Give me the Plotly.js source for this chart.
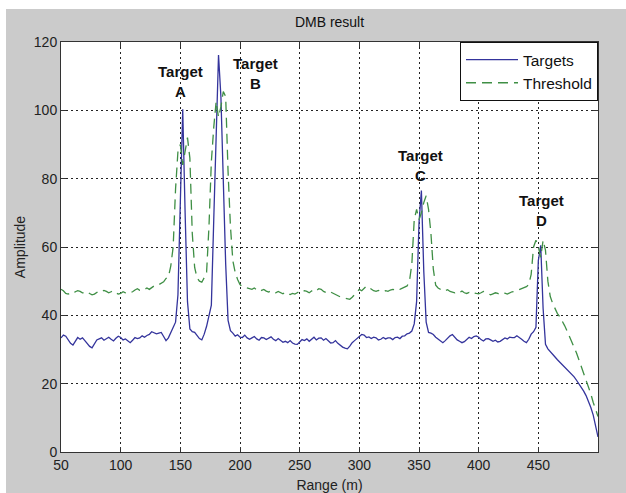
<!DOCTYPE html>
<html>
<head>
<meta charset="utf-8">
<script src="https://cdn.plot.ly/plotly-3.0.1.min.js"></script>
<style>
  html, body { margin: 0; padding: 0; background: #ffffff; width: 626px; height: 493px; overflow: hidden; }
  #chart { position: absolute; left: 6px; top: 9px; width: 620px; height: 484px; }
</style>
</head>
<body>
<div id="chart"></div>
<script>
// Range axis samples (m), every 2 m from 50 to 500
const rangeStart = 50;
const rangeStep = 2;

// Targets (blue solid) amplitude, one value per 2 m
const targets = [
  33.4, 34.2, 33.9, 32.8, 31.8, 31.3, 32.6, 33.5, 33.0, 33.4,
  32.6, 31.8, 30.9, 30.5, 31.6, 32.8, 33.1, 33.4, 32.7, 33.2,
  33.6, 33.0, 32.5, 33.3, 33.9, 33.5, 32.8, 33.1, 32.4, 32.0,
  32.7, 33.5, 33.2, 33.4, 34.0, 33.6, 34.1, 34.4, 35.2, 34.8,
  34.6, 34.8, 35.0, 33.8, 32.6, 33.4, 35.0, 36.4, 38.0, 46.0,
  75.0, 100.3, 70.0, 44.0, 36.0, 35.2, 35.0, 34.0, 33.2, 32.8,
  34.5, 36.8, 39.5, 43.0, 68.0, 96.0, 116.2, 104.0, 80.0, 55.0,
  38.5, 35.5, 34.8, 33.9, 34.3, 33.6, 33.5, 34.2, 33.4, 33.0,
  33.4, 33.8, 33.1, 32.7, 33.5, 33.4, 32.9, 33.3, 33.7, 33.0,
  32.6, 33.2, 32.5, 32.1, 32.4, 32.0, 32.6, 31.9, 31.6, 31.5,
  32.2, 32.9, 32.6, 33.1, 32.4, 33.0, 33.6, 32.8, 33.3, 33.4,
  32.7, 33.2, 32.4, 31.9, 32.0, 32.6, 31.8, 31.2, 30.7, 30.4,
  30.2, 31.0, 32.0, 32.6, 33.3, 34.0, 34.4, 34.2, 33.5, 33.7,
  33.2, 33.6, 33.4, 32.8, 33.0, 33.5, 33.1, 33.4, 33.4, 32.9,
  33.5, 33.6, 33.2, 33.9, 34.0, 34.6, 34.8, 35.4, 37.5, 44.0,
  67.0, 76.5, 53.0, 38.0, 35.0, 34.8, 34.4, 33.6, 33.0, 32.5,
  32.0, 32.6, 33.4, 34.0, 34.4, 33.5, 32.8, 32.4, 32.0, 32.3,
  33.0, 33.6, 33.2, 33.8, 34.0, 33.6, 32.9, 32.5, 33.1, 33.2,
  32.8, 32.4, 32.7, 32.2, 32.4, 33.0, 33.4, 33.1, 33.6, 33.5,
  33.5, 34.0, 33.6, 33.0, 32.4, 32.0, 33.0, 34.5, 35.2, 36.5,
  56.0, 60.5, 42.0, 31.5, 30.2, 29.3, 28.6, 27.8, 27.0, 26.3,
  25.8, 25.0, 24.2, 23.5, 22.7, 22.0, 21.0, 20.0, 19.0, 17.8,
  16.5, 15.0, 13.0, 10.8, 7.8, 4.4
];

// Threshold (green dashed) amplitude, one value per 2 m
const threshold = [
  47.6, 47.2, 46.4, 46.2, 46.6, 46.4, 46.9, 47.2, 47.0, 46.6,
  46.5, 46.9, 46.4, 46.0, 46.2, 46.8, 47.2, 47.0, 47.3, 47.0,
  46.6, 46.9, 47.2, 46.6, 46.2, 46.4, 46.9, 46.6, 46.4, 46.7,
  46.9, 47.4, 47.8, 47.3, 47.2, 47.6, 48.0, 47.6, 48.2, 48.6,
  48.6, 49.0, 49.4, 49.8, 50.8, 51.2, 54.5, 60.0, 77.0, 88.0,
  90.0, 84.0, 88.0, 92.0, 86.0, 64.0, 54.0, 51.0, 50.0, 49.7,
  51.0, 52.6, 66.0, 85.0, 95.0, 102.6, 98.0, 101.0, 105.5, 104.0,
  82.0, 66.0, 56.0, 52.5, 50.5, 49.0, 48.4, 48.2, 47.9, 47.6,
  47.6, 48.0, 47.4, 47.0, 47.3, 47.6, 47.1, 46.8, 47.2, 47.0,
  46.6, 47.0, 46.6, 46.3, 46.8, 46.5, 46.1, 46.4, 46.2, 46.6,
  47.0, 46.7, 47.2, 47.0, 46.6, 47.1, 47.6, 47.2, 47.8, 47.6,
  47.0, 46.7, 47.1, 46.8, 46.4, 46.0, 45.6, 45.4, 45.2, 45.0,
  44.8, 44.7, 45.3, 46.0, 47.0, 47.6, 47.2, 47.9, 48.6, 48.2,
  47.6, 47.2, 47.0, 47.3, 47.0, 46.8, 47.2, 47.0, 47.4, 47.6,
  47.4, 47.8, 47.6, 48.0, 48.2, 48.6, 50.0, 55.0, 68.0, 71.0,
  68.0, 70.0, 73.0, 75.0, 71.0, 64.0, 53.5, 48.8, 48.0, 47.6,
  47.7, 47.2, 47.5, 47.0, 46.8, 46.6, 47.0, 46.7, 47.1, 46.6,
  46.4, 46.7, 46.3, 46.6, 46.4, 46.3, 46.6, 47.0, 46.7, 46.4,
  46.0, 46.3, 46.6, 46.4, 46.1, 46.3, 46.5, 46.2, 46.6, 46.9,
  47.0, 47.3, 47.6, 47.8, 48.0, 48.4, 49.0, 52.0, 60.0, 62.0,
  60.0, 57.0, 62.0, 59.0, 50.0, 45.5, 43.5, 41.8, 40.5, 39.6,
  38.5, 37.0, 35.5, 34.0, 32.5, 31.0, 29.0, 27.0, 25.0, 23.0,
  21.2, 19.5, 17.0, 14.5, 12.5, 10.4
];

const seriesNames = ["Targets", "Threshold"];
const xTicks = [50, 100, 150, 200, 250, 300, 350, 400, 450];
const yTicks = [0, 20, 40, 60, 80, 100, 120];

// Target labels: text and anchor point in data units
const labelTexts = ["Target<br>A", "Target<br>B", "Target<br>C", "Target<br>D"];
const labelX = [150, 213, 351, 453];
const labelY = [108.5, 110.8, 84.0, 70.8];

const rangeM = [];
for (let i = 0; i < targets.length; i++) rangeM.push(rangeStart + i * rangeStep);

const traces = [
  { x: rangeM, y: targets, type: "scatter", mode: "lines", name: seriesNames[0],
    line: { color: "#34349c", width: 1.3 } },
  { x: rangeM, y: threshold, type: "scatter", mode: "lines", name: seriesNames[1],
    line: { color: "#3f8f45", width: 1.3, dash: "10px,6px" } }
];

const axisFont = { family: "Liberation Sans, Arial, sans-serif", size: 14, color: "#222" };

const annotations = labelTexts.map((t, i) => ({
  x: labelX[i], y: labelY[i], xref: "x", yref: "y", text: "<b>" + t + "</b>",
  showarrow: false, align: "center",
  font: { family: "Liberation Sans, Arial, sans-serif", size: 15, color: "#111" }
}));

const layout = {
  width: 620, height: 484,
  paper_bgcolor: "#cbcbcb",
  plot_bgcolor: "#ffffff",
  margin: { l: 55, r: 28, t: 33, b: 41 },
  title: { text: "DMB result", x: 0.5, xref: "paper", xanchor: "center",
           y: 0.972, yref: "container", yanchor: "middle",
           font: { family: "Liberation Sans, Arial, sans-serif", size: 14, color: "#111" } },
  xaxis: {
    range: [50, 500], tickvals: xTicks, ticktext: xTicks.map(String),
    ticks: "inside", ticklen: 5, tickcolor: "#333",
    showline: true, linecolor: "#333", linewidth: 1, mirror: "allticks",
    showgrid: true, gridcolor: "#222", gridwidth: 1, griddash: "2px,3px",
    zeroline: false, tickfont: axisFont,
    title: { text: "Range (m)", font: axisFont, standoff: 10 }
  },
  yaxis: {
    range: [0, 120], tickvals: yTicks, ticktext: yTicks.map(String),
    ticks: "inside", ticklen: 5, tickcolor: "#333",
    showline: true, linecolor: "#333", linewidth: 1, mirror: "allticks",
    showgrid: true, gridcolor: "#222", gridwidth: 1, griddash: "2px,3px",
    zeroline: false, tickfont: axisFont,
    title: { text: "Amplitude", font: axisFont, standoff: 4 }
  },
  legend: {
    x: 1, y: 1, xanchor: "right", yanchor: "top",
    bgcolor: "#ffffff", bordercolor: "#111", borderwidth: 1,
    font: { family: "Liberation Sans, Arial, sans-serif", size: 15.5, color: "#111" },
    itemwidth: 52, tracegroupgap: 0
  },
  annotations: annotations,
  showlegend: true
};

Plotly.newPlot("chart", traces, layout, { displayModeBar: false, staticPlot: true });
</script>
</body>
</html>
